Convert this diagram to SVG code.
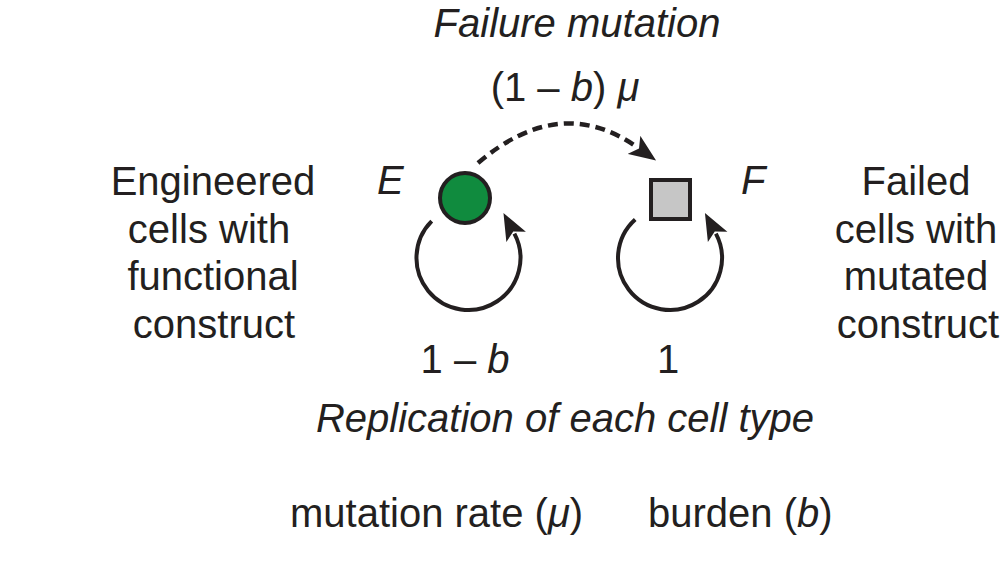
<svg xmlns="http://www.w3.org/2000/svg" width="1000" height="564" viewBox="0 0 1000 564">
<style>
text{font-family:"Liberation Sans",Arial,sans-serif;font-size:40px;fill:#231f20}
.it{font-style:italic}
.mid{text-anchor:middle}
.loop{fill:none;stroke:#231f20;stroke-width:4}
.dash{fill:none;stroke:#231f20;stroke-width:4.5;stroke-dasharray:10 6}
</style>
<defs>
<marker id="ah" markerUnits="userSpaceOnUse" markerWidth="27" markerHeight="23" viewBox="0 0 22 18" refX="3" refY="9" orient="auto">
<path d="M0,0 L22,9 L0,18 L5,9 Z" fill="#231f20"/>
</marker>
</defs>
<rect width="1000" height="564" fill="#fff"/>
<g id="connectors">
<path class="loop" d="M431.7,221.2 A52,52 0 1 0 514.4,233.6" marker-end="url(#ah)"/>
<path class="loop" d="M635.2,219.4 A52,52 0 1 0 715.9,233.6" marker-end="url(#ah)"/>
<path class="dash" d="M478,163 Q560,93 637,147" marker-end="url(#ah)"/>
</g>
<g id="node-E">
<circle cx="465" cy="198" r="25" fill="#108b3e" stroke="#231f20" stroke-width="4"/>
<text class="it" x="377" y="194">E</text>
</g>
<g id="node-F">
<rect x="651" y="180" width="39" height="39" fill="#c6c6c6" stroke="#231f20" stroke-width="4"/>
<text class="it" x="741" y="194">F</text>
</g>
<g id="labels">
<text class="it mid" x="577" y="37">Failure mutation</text>
<text class="mid" x="565" y="101">(1 – <tspan class="it">b</tspan>) <tspan class="it">μ</tspan></text>
<text class="mid" x="213" y="195">Engineered</text>
<text class="mid" x="209" y="243">cells with</text>
<text class="mid" x="213" y="290">functional</text>
<text class="mid" x="214" y="338">construct</text>
<text class="mid" x="916" y="195">Failed</text>
<text class="mid" x="916" y="243">cells with</text>
<text class="mid" x="916" y="290">mutated</text>
<text class="mid" x="918" y="338">construct</text>
<text class="mid" x="465" y="373">1 – <tspan class="it">b</tspan></text>
<text class="mid" x="668" y="373">1</text>
<text class="it mid" x="565" y="432">Replication of each cell type</text>
<text x="290" y="527">mutation rate (<tspan class="it">μ</tspan>)</text>
<text x="648" y="527">burden (<tspan class="it">b</tspan>)</text>
</g>
</svg>
